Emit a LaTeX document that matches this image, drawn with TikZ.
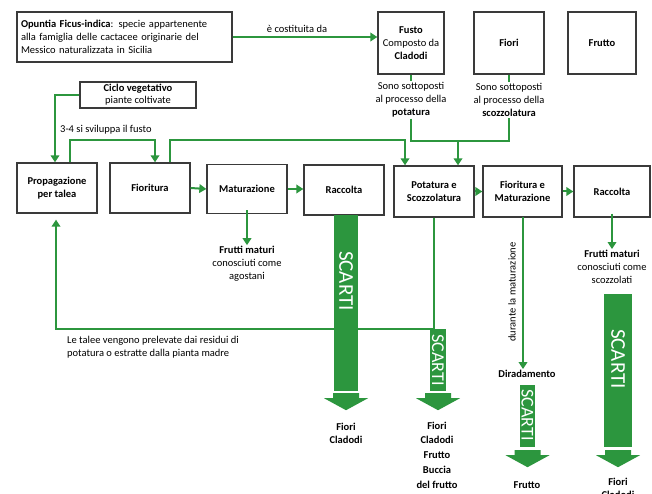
\documentclass[tikz,border=0pt]{standalone}
\usepackage{fontspec}
\setmainfont{Carlito}
\usetikzlibrary{arrows.meta,calc}
\definecolor{leaf}{RGB}{44,150,62}
\definecolor{frame}{RGB}{58,58,58}
\newcommand\basefont{\fontsize{10.5}{13}\selectfont}
\begin{document}
\begin{tikzpicture}[x=1pt,y=-1pt,
  box/.style={draw=frame,line width=1.3pt,fill=white,align=center,
              font=\basefont\bfseries,inner sep=2pt},
  note/.style={align=center,font=\basefont,inner sep=1pt},
  flow/.style={draw=leaf,line width=2pt},
  arr/.style={flow,-{Triangle[length=7pt,width=8.5pt]}},
  bar/.style={fill=leaf,draw=none,inner sep=0pt},
  barlabel/.style={text=white,rotate=-90,inner sep=0pt},
  pics/blockhead/.style={code={
    \fill[leaf] (-13,0) -- (13,0) -- (13,5) -- (22,5) -- (0,17)
                -- (-22,5) -- (-13,5) -- cycle;}}
]
\useasboundingbox[fill=white] (0,0) rectangle (652,494);

% ---- top row: the plant and its parts
\node[box,font=\basefont,align=left,text width=207,minimum width=215,
      minimum height=50,line width=1.6pt] (opuntia) at (124.5,37)
  {\textbf{Opuntia Ficus-indica}: specie appartenente\\
   alla famiglia delle cactacee originarie del\\
   Messico naturalizzata in Sicilia};
\node[note] (costit) at (297,29) {è costituita da};

\node[box,minimum width=66,minimum height=62] (fusto) at (411,43)
  {Fusto\\\mdseries Composto da\\\bfseries Cladodi};
\node[box,minimum width=70,minimum height=62] (fiori) at (509,43) {Fiori};
\node[box,minimum width=68,minimum height=62] (frutto) at (602,43) {Frutto};

\node[note] (potlbl) at (411,100)
  {Sono sottoposti\\al processo della\\\textbf{potatura}};
\node[note] (scolbl) at (509,100)
  {Sono sottoposti\\al processo della\\\textbf{scozzolatura}};

% ---- vegetative cycle
\node[box,minimum width=116,minimum height=26,inner sep=1pt,
      font=\fontsize{10.5}{12}\selectfont] (ciclo) at (138,95)
  {\textbf{Ciclo vegetativo}\\piante coltivate};
\node[note,anchor=west] (svil) at (59,130) {3-4 si sviluppa il fusto};

% ---- main process row
\node[box,minimum width=80,minimum height=50] (propag) at (57,188)
  {Propagazione\\per talea};
\node[box,minimum width=80,minimum height=50] (fioritura) at (150,188)
  {Fioritura};
\node[box,minimum width=80,minimum height=49] (matur) at (247,189)
  {Maturazione};
\node[box,minimum width=80,minimum height=50] (raccolta) at (344,190)
  {Raccolta};
\node[box,minimum width=80,minimum height=51] (potatura) at (434,191.5)
  {Potatura e\\Scozzolatura};
\node[box,minimum width=79,minimum height=51] (fiormat) at (522.5,191.5)
  {Fioritura e\\Maturazione};
\node[box,minimum width=76,minimum height=51] (raccolta2) at (612,191.5)
  {Raccolta};

% ---- outcomes
\node[note] (agostani) at (247,264)
  {\textbf{Frutti maturi}\\conosciuti come\\agostani};
\node[note] (scozzolati) at (612,267)
  {\textbf{Frutti maturi}\\conosciuti come\\scozzolati};
\node[note,anchor=north west,align=left] (talee) at (66,335)
  {Le talee vengono prelevate dai residui di\\
   potatura o estratte dalla pianta madre};
\node[note,rotate=90] (durante) at (512,292) {durante la maturazione};
\node[note,font=\basefont\bfseries] (dirad) at (527,374) {Diradamento};

% ---- connectors
\draw[arr] (opuntia.east) -- (opuntia.east -| fusto.west);
\draw[flow] (fusto.south) -- (potlbl.north);
\draw[flow] (fiori.south) -- (scolbl.north);
\coordinate (jrow) at (0,141);
\coordinate (jdrop) at (458,141);
\draw[flow] (potlbl.south) -- (potlbl.south |- jrow) -| (scolbl.south);
\draw[arr] (jdrop) -- (jdrop |- potatura.north);

\coordinate (cturn) at (55,95);
\draw[arr] (ciclo.west) -- (cturn) -- (cturn |- propag.north);

\coordinate (pfa) at (70,140);
\coordinate (pfb) at (155,140);
\draw[arr] (pfa |- propag.north) -- (pfa) -- (pfb) -- (pfb |- fioritura.north);
\coordinate (fpa) at (170,140);
\coordinate (fpb) at (405,140);
\draw[arr] (fpa |- fioritura.north) -- (fpa) -- (fpb) -- (fpb |- potatura.north);

\draw[arr] (fioritura.east) -- (matur.west);
\draw[arr] (matur.east) -- (matur.east -| raccolta.west);
\draw[arr] (potatura.east) -- (fiormat.west);
\draw[arr] (fiormat.east) -- (raccolta2.west);

\draw[arr] ([yshift=4pt]matur.south) -- (agostani.north);
\draw[arr] ([yshift=4pt]raccolta2.south) -- (scozzolati.north);

\coordinate (loopR) at (434,329);
\coordinate (loopL) at (56,329);
\draw[arr,shorten >=6pt] (potatura.south -| loopR) -- (loopR) -- (loopL)
  -- (loopL |- propag.south);

\coordinate (dirtop) at (523,217);
\draw[arr] (dirtop) -- (dirtop |- dirad.north);

% ---- waste bars
\node[bar,minimum width=24,minimum height=176] (bar1) at (346,303) {};
\node[barlabel,font=\fontsize{21}{21}\selectfont] (lab1) at (346,281) {SCARTI};
\node[bar,minimum width=16,minimum height=62] (bar2) at (438,360) {};
\node[barlabel,font=\fontsize{18}{18}\selectfont] (lab2) at (438,360) {SCARTI};
\node[bar,minimum width=15,minimum height=62] (bar3) at (527.5,416) {};
\node[barlabel,font=\fontsize{18}{18}\selectfont] (lab3) at (527.5,415) {SCARTI};
\node[bar,minimum width=28,minimum height=153] (bar4) at (618,370.5) {};
\node[barlabel,font=\fontsize{21}{21}\selectfont] (lab4) at (618,359) {SCARTI};

\pic at ($(bar1.south)+(0,2)$) {blockhead};
\pic at ($(bar2.south)+(0,2)$) {blockhead};
\pic at ($(bar3.south)+(0,3)$) {blockhead};
\pic at ($(bar4.south)+(0,3)$) {blockhead};

\node[note,font=\basefont\bfseries,align=center] (out1) at (346,433)
  {Fiori\\Cladodi};
\node[note,font=\fontsize{10.5}{14.7}\selectfont\bfseries,align=center] (out2)
  at (437,455) {Fiori\\Cladodi\\Frutto\\Buccia\\del frutto};
\node[note,font=\basefont\bfseries] (out3) at (527,485) {Frutto};
\node[note,font=\basefont\bfseries,align=center] (out4) at (618,488)
  {Fiori\\Cladodi};
\end{tikzpicture}
\end{document}
